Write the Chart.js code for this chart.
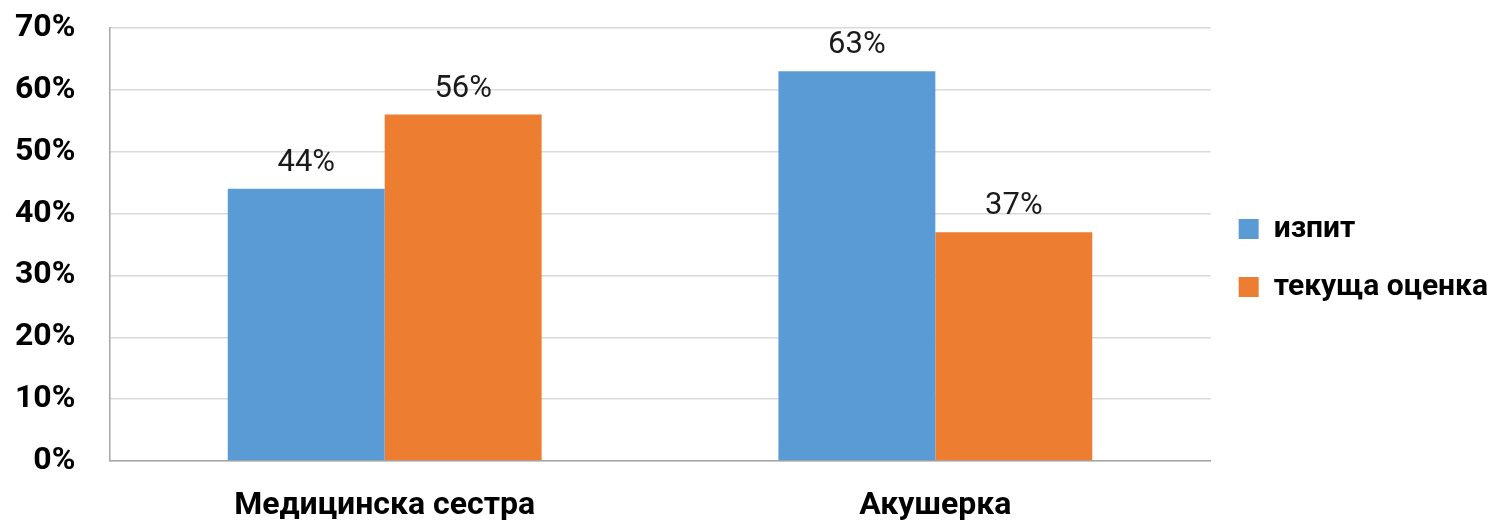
<!DOCTYPE html>
<html>
<head>
<meta charset="utf-8">
<script src="https://cdn.jsdelivr.net/npm/chart.js@4"></script>
<style>
  html, body { margin: 0; padding: 0; background: #fff; }
  #wrap { width: 1493px; height: 529px; }
</style>
</head>
<body>
<div id="wrap"><canvas id="myChart"></canvas></div>
<script>
const categories = ["Медицинска сестра", "Акушерка"]
const izpit = [44, 63]
const tekushta = [56, 37]
const seriesNames = ["изпит", "текуща оценка"]

const fontFam = "Roboto, 'Liberation Sans', sans-serif"

// етикети над стълбовете
const barLabels = {
  id: 'barLabels',
  afterDatasetsDraw(chart) {
    const ctx = chart.ctx
    ctx.save()
    ctx.font = "31px " + fontFam
    ctx.fillStyle = '#1a1a1a'
    ctx.textAlign = 'center'
    ctx.textBaseline = 'alphabetic'
    chart.data.datasets.forEach((ds, i) => {
      chart.getDatasetMeta(i).data.forEach((bar, j) => {
        ctx.fillText(ds.data[j] + '%', bar.x, bar.y - 18)
      })
    })
    ctx.restore()
  }
}

const data = {
  labels: categories,
  datasets: [{
    label: seriesNames[0],
    data: izpit,
    backgroundColor: '#5b9bd5'
  }, {
    label: seriesNames[1],
    data: tekushta,
    backgroundColor: '#ed7d31'
  }]
}

const config = {
  type: 'bar',
  data: data,
  options: {
    responsive: true,
    maintainAspectRatio: false,
    animation: false,
    layout: { padding: { top: 28, right: -5, bottom: -22, left: 9 } },
    datasets: { bar: { categoryPercentage: 0.57, barPercentage: 1 } },
    plugins: {
      legend: {
        position: 'right',
        align: 'start',
        // празно заглавие само за отместване надолу
        title: { display: true, text: ' ', font: { size: 10, lineHeight: 1 }, padding: { top: 74, bottom: 74 } },
        labels: {
          boxWidth: 20,
          boxHeight: 20,
          padding: 28,
          color: '#000',
          font: { family: fontFam, size: 30, weight: 'bold' }
        }
      },
      tooltip: { enabled: false }
    },
    scales: {
      x: {
        grid: { display: false, drawTicks: false },
        border: { display: true, color: '#a6a6a6', width: 1.5 },
        ticks: {
          color: '#000',
          padding: 29,
          font: { family: fontFam, size: 32, weight: 'bold', lineHeight: 1 }
        }
      },
      y: {
        min: 0,
        max: 70,
        grid: { color: '#d9d9d9', lineWidth: 1.5, drawTicks: true, tickLength: 28, tickColor: 'rgba(0,0,0,0)' },
        border: { display: true, color: '#a6a6a6', width: 1.5 },
        ticks: {
          stepSize: 10,
          color: '#000',
          padding: 6,
          font: { family: fontFam, size: 32, weight: 'bold', lineHeight: 1 },
          callback: v => v + '%'
        }
      }
    }
  },
  plugins: [barLabels]
}

const myChart = new Chart(document.getElementById("myChart"), config)
</script>
</body>
</html>
